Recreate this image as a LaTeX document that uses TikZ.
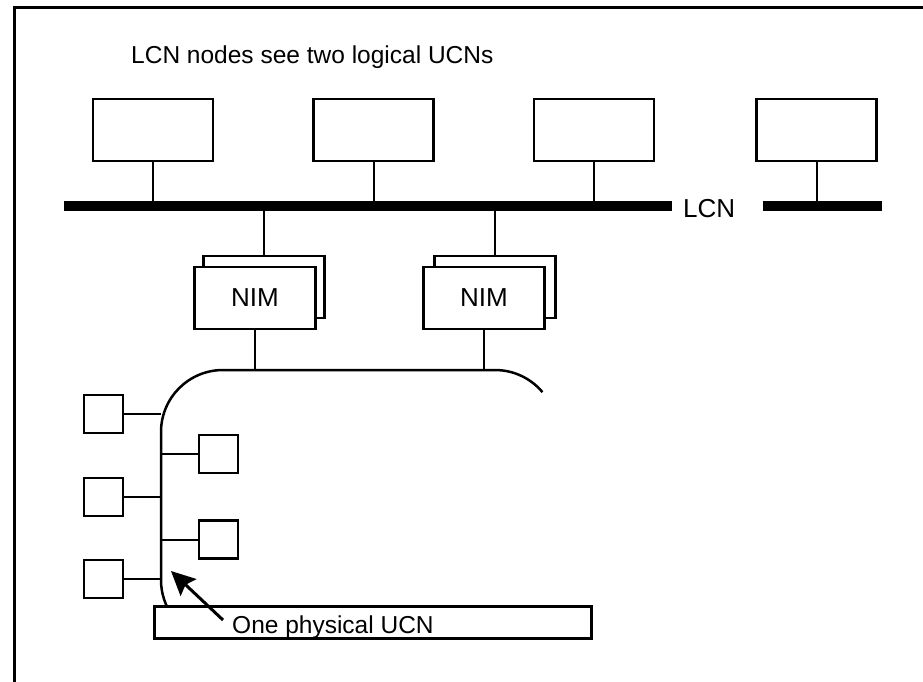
\documentclass[tikz,border=0pt]{standalone}
\usepackage{fontspec}
\setmainfont{Liberation Sans}
\usetikzlibrary{arrows.meta}
\begin{document}
\begin{tikzpicture}[x=1pt,y=1pt,
  frameline/.style={line width=3pt},
  busline/.style={line width=10pt},
  conn/.style={line width=2pt},
  lcnbox/.style={draw,line width=2.5pt,fill=white,inner sep=0pt,minimum width=120pt,minimum height=62pt},
  nimbox/.style={draw,line width=2.5pt,fill=white,inner sep=0pt,minimum width=121pt,minimum height=62pt,font=\fontsize{26}{30}\selectfont},
  smallbox/.style={draw,line width=2.5pt,fill=white,inner sep=0pt,minimum width=39pt,minimum height=38pt},
  ucnline/.style={line width=2.5pt},
  labelbox/.style={draw,line width=2.5pt,fill=white,inner sep=0pt,minimum width=437pt,minimum height=32pt},
  txt/.style={inner sep=0pt,font=\fontsize{24.5}{29}\selectfont},
  bigtxt/.style={inner sep=0pt,font=\fontsize{26}{30}\selectfont},
  pointer/.style={line width=3pt,-{Stealth[length=24pt,width=23pt,inset=4pt]}}
]
\useasboundingbox (0,0) rectangle (923,-681);
% frame
\draw[frameline] (14.5,-685) -- (14.5,-7.5) -- (930,-7.5);
% title
\node[txt,anchor=base west] (title) at (131,-63) {LCN nodes see two logical UCNs};
% LCN bus
\coordinate (busL) at (64,-206);
\coordinate (busM) at (672,-206);
\coordinate (busR1) at (763,-206);
\coordinate (busR2) at (882,-206);
\draw[busline] (busL) -- (busM);
\draw[busline] (busR1) -- (busR2);
\node[bigtxt,anchor=base west] (lcnlabel) at (683,-217) {LCN};
% LCN nodes
\node[lcnbox] (n1) at (153,-130) {};
\node[lcnbox] (n2) at (373.5,-130) {};
\node[lcnbox] (n3) at (594,-130) {};
\node[lcnbox] (n4) at (816.5,-130) {};
\foreach \n in {n1,n2,n3,n4}{\draw[conn] (\n.south) -- (\n.south |- busL);}
% NIMs
\node[nimbox] (nimAback) at (264,-287) {};
\node[nimbox] (nimA) at (255,-298) {NIM};
\node[nimbox] (nimBback) at (495,-287) {};
\node[nimbox] (nimB) at (484,-298) {NIM};
\draw[conn] (nimAback.north) -- (nimAback.north |- busL);
\draw[conn] (nimBback.north) -- (nimBback.north |- busL);
% UCN outline
\coordinate (ucntop) at (300,-370);
\coordinate (ucnleft) at (161,-500);
\draw[ucnline] (201.8,-638.3) arc[start angle=250,end angle=180,radius=62pt]
  -- (161,-432) arc[start angle=180,end angle=90,radius=62pt]
  -- (495,-370) arc[start angle=90,end angle=40,radius=62pt];
\draw[conn] (nimA.south) -- (nimA.south |- ucntop);
\draw[conn] (nimB.south) -- (nimB.south |- ucntop);
% UCN nodes
\node[smallbox] (l1) at (103.5,-414) {};
\node[smallbox] (l2) at (103.5,-497) {};
\node[smallbox] (l3) at (103.5,-579) {};
\node[smallbox] (r1) at (218.5,-454) {};
\node[smallbox] (r2) at (218.5,-539.5) {};
\foreach \b in {l1,l2,l3}{\draw[conn] (\b.east) -- (\b.east -| ucnleft);}
\foreach \b in {r1,r2}{\draw[conn] (\b.west) -- (\b.west -| ucnleft);}
% label box
\node[labelbox] (ucnbox) at (373,-622.5) {};
\node[txt,anchor=base west] (ucntext) at (232,-633) {One physical UCN};
\coordinate (arrowstart) at (223,-620);
\coordinate (arrowtip) at (171,-571);
\draw[pointer] (arrowstart) -- (arrowtip);
\end{tikzpicture}
\end{document}
